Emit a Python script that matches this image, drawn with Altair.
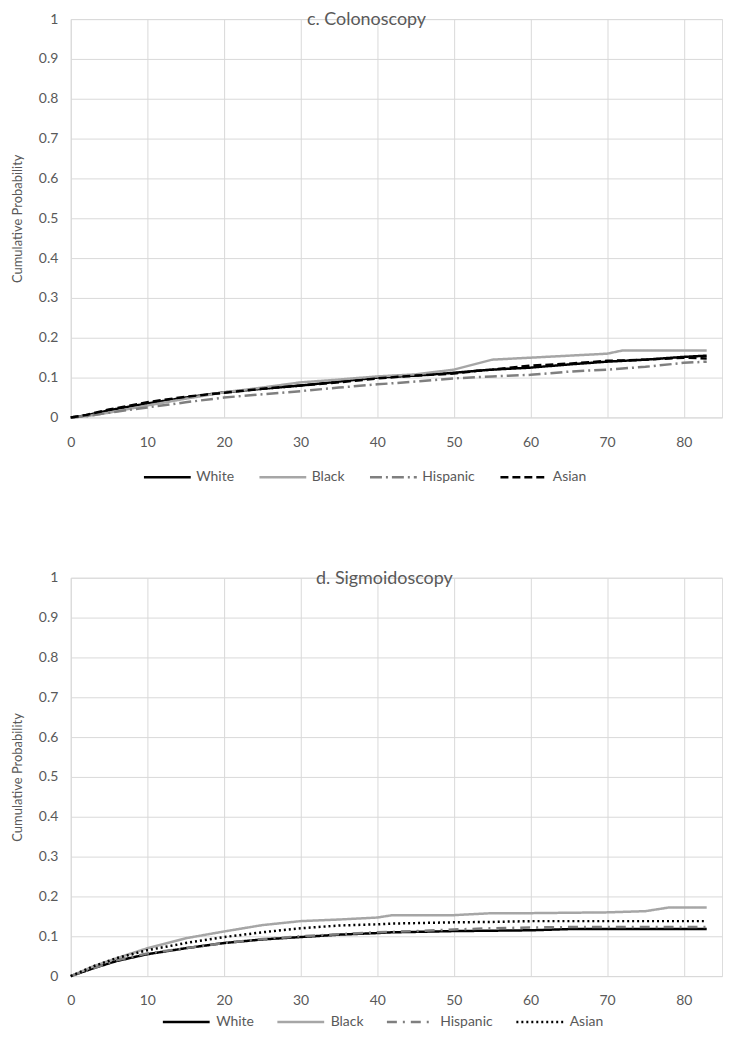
import altair as alt
import pandas as pd

groups = ["White", "Black", "Hispanic", "Asian"]

# c. Colonoscopy
colo_x = [0, 2, 5, 10, 15, 20, 25, 30, 35, 40, 45, 50, 53, 55, 60, 65, 70, 72, 75, 80, 83]
colo_white = [0, 0.005, 0.018, 0.035, 0.05, 0.063, 0.072, 0.08, 0.09, 0.1, 0.105, 0.112, 0.117, 0.12, 0.125, 0.133, 0.14, 0.142, 0.145, 0.152, 0.155]
colo_black = [0, 0.003, 0.012, 0.03, 0.047, 0.063, 0.075, 0.088, 0.095, 0.103, 0.108, 0.12, 0.135, 0.145, 0.15, 0.155, 0.16, 0.168, 0.168, 0.168, 0.168]
colo_hisp = [0, 0.003, 0.012, 0.025, 0.038, 0.05, 0.058, 0.066, 0.075, 0.083, 0.09, 0.098, 0.101, 0.103, 0.107, 0.115, 0.12, 0.123, 0.127, 0.137, 0.14]
colo_asian = [0, 0.006, 0.02, 0.038, 0.052, 0.062, 0.072, 0.08, 0.088, 0.098, 0.105, 0.11, 0.117, 0.12, 0.13, 0.135, 0.142, 0.143, 0.145, 0.15, 0.148]

# d. Sigmoidoscopy
sig_x = [0, 3, 6, 10, 15, 20, 25, 30, 35, 40, 42, 45, 50, 55, 60, 65, 70, 75, 78, 80, 83]
sig_white = [0, 0.02, 0.038, 0.055, 0.07, 0.083, 0.092, 0.098, 0.104, 0.108, 0.11, 0.111, 0.113, 0.114, 0.115, 0.118, 0.118, 0.118, 0.118, 0.118, 0.118]
sig_black = [0, 0.025, 0.045, 0.07, 0.095, 0.112, 0.128, 0.138, 0.142, 0.147, 0.153, 0.153, 0.153, 0.158, 0.158, 0.159, 0.16, 0.163, 0.172, 0.172, 0.172]
sig_hisp = [0, 0.02, 0.04, 0.057, 0.07, 0.083, 0.093, 0.1, 0.105, 0.11, 0.111, 0.113, 0.117, 0.12, 0.122, 0.123, 0.123, 0.123, 0.123, 0.123, 0.123]
sig_asian = [0, 0.025, 0.045, 0.065, 0.083, 0.098, 0.11, 0.12, 0.127, 0.13, 0.132, 0.133, 0.135, 0.136, 0.138, 0.138, 0.138, 0.138, 0.138, 0.138, 0.138]

x_ticks = [0, 10, 20, 30, 40, 50, 60, 70, 80]
y_ticks = [0, 0.1, 0.2, 0.3, 0.4, 0.5, 0.6, 0.7, 0.8, 0.9, 1]

colors = ["#000000", "#a6a6a6", "#7f7f7f", "#000000"]
colo_dash = [[1, 0], [1, 0], [12, 4, 2, 4], [8, 4]]
sig_dash = [[1, 0], [1, 0], [10, 6, 2, 6], [2, 3]]

FONT = "Lato"
TXT = "#595959"
GRID = "#d9d9d9"


def make_df(xs, series):
    rows = []
    for g, vals in zip(groups, series):
        for x, v in zip(xs, vals):
            rows.append({"x": x, "p": v, "group": g})
    return pd.DataFrame(rows)


def legend(lx, ly, loff, cpad):
    return alt.Legend(
        title=None, orient="none", direction="horizontal",
        legendX=lx, legendY=ly, symbolType="stroke",
        symbolSize=2209, symbolStrokeWidth=2.5,
        labelFont=FONT, labelFontSize=14, labelColor=TXT,
        columnPadding=cpad, labelOffset=loff)


def panel(df, title, dashes, title_dx, lx, ly, loff, cpad):
    return (
        alt.Chart(df, title=alt.TitleParams(
            title, offset=-17, dx=title_dx, fontSize=18, font=FONT,
            fontWeight="normal", color=TXT, anchor="middle"))
        .mark_line(strokeWidth=2.5)
        .encode(
            x=alt.X("x:Q", scale=alt.Scale(domain=[0, 85], nice=False),
                    axis=alt.Axis(values=x_ticks, title=None, grid=True,
                                  gridColor=GRID, domain=False, ticks=False,
                                  labelPadding=18, labelFontSize=14,
                                  labelColor=TXT, labelFont=FONT,
                                  labelFlush=False)),
            y=alt.Y("p:Q", scale=alt.Scale(domain=[0, 1], nice=False),
                    axis=alt.Axis(values=y_ticks, format="~g",
                                  title="Cumulative Probability",
                                  grid=True, gridColor=GRID, domain=False,
                                  ticks=False, labelPadding=13, labelFontSize=14,
                                  labelColor=TXT, labelFont=FONT,
                                  titleFont=FONT, titleFontSize=13,
                                  titleColor=TXT, titleFontWeight="normal",
                                  titlePadding=14, labelFlush=False)),
            color=alt.Color("group:N", scale=alt.Scale(domain=groups, range=colors),
                            legend=legend(lx, ly, loff, cpad)),
            strokeDash=alt.StrokeDash("group:N",
                                      scale=alt.Scale(domain=groups, range=dashes),
                                      legend=legend(lx, ly, loff, cpad)),
            order=alt.Order("x:Q"),
        )
        .properties(width=654, height=400)
    )


top = panel(make_df(colo_x, [colo_white, colo_black, colo_hisp, colo_asian]),
            "c. Colonoscopy", colo_dash, -30, 72, 435, 4, 20)
bottom = panel(make_df(sig_x, [sig_white, sig_black, sig_hisp, sig_asian]),
               "d. Sigmoidoscopy", sig_dash, -12, 91, 421, 5, 18)

chart = (
    alt.vconcat(top, bottom, spacing=84)
    .resolve_scale(color="independent", strokeDash="independent")
    .resolve_legend(color="independent", strokeDash="independent")
    .properties(padding={"left": 2, "top": 0, "right": 5, "bottom": 0})
    .configure_view(stroke=None)
    .configure(background="white")
)

chart.save("out.html", embed_options={"renderer": "svg", "actions": False})
